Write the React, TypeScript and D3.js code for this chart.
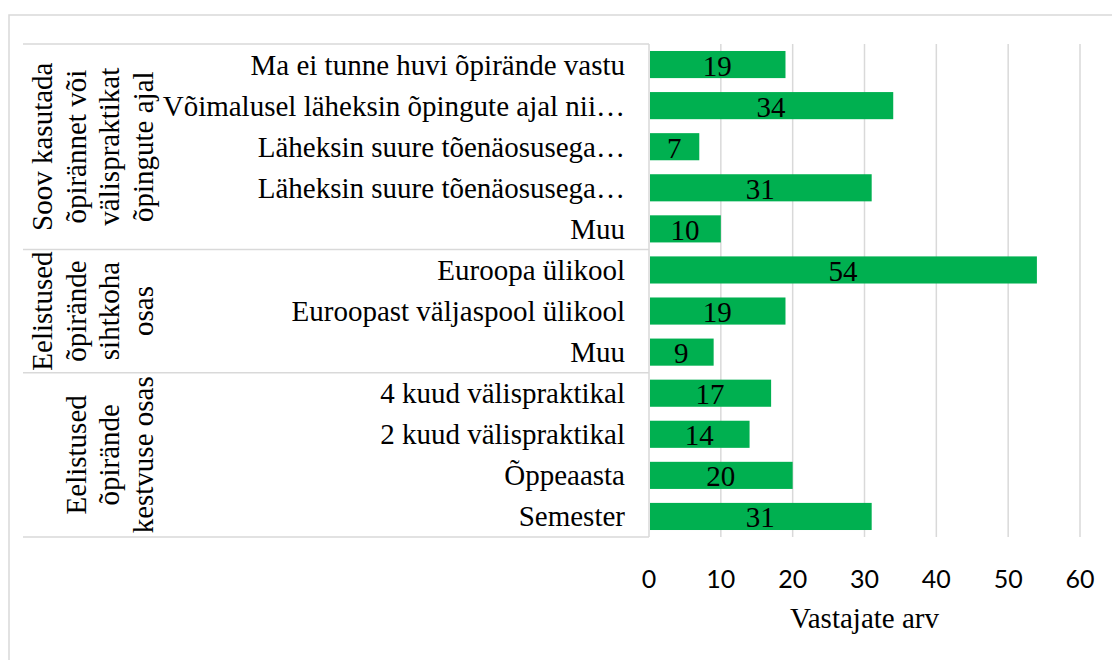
import React from 'react'
import * as d3 from 'd3'

const categories = [
  'Ma ei tunne huvi õpirände vastu',
  'Võimalusel läheksin õpingute ajal nii…',
  'Läheksin suure tõenäosusega…',
  'Läheksin suure tõenäosusega…',
  'Muu',
  'Euroopa ülikool',
  'Euroopast väljaspool ülikool',
  'Muu',
  '4 kuud välispraktikal',
  '2 kuud välispraktikal',
  'Õppeaasta',
  'Semester'
]
const values = [19, 34, 7, 31, 10, 54, 19, 9, 17, 14, 20, 31]
const groups = [
  {lines: ['Soov kasutada', 'õpirännet või', 'välispraktikat', 'õpingute ajal'], from: 0, to: 5},
  {lines: ['Eelistused', 'õpirände', 'sihtkoha', 'osas'], from: 5, to: 8},
  {lines: ['Eelistused', 'õpirände', 'kestvuse osas'], from: 8, to: 12}
]
const xTicks = [0, 10, 20, 30, 40, 50, 60]

const serif = '"Liberation Serif", "Times New Roman", Tinos, serif'
const sans = 'Lato, "Open Sans", sans-serif'
const grid = '#d9d9d9'

export default function App() {
  const left = 649
  const right = 1080
  const top = 44
  const bottom = 537

  const x = d3.scaleLinear().domain([0, 60]).range([left, right])
  const idx = categories.map((_, i) => i)
  const y = d3
    .scaleBand<number>()
    .domain(idx)
    .range([top, bottom])
    .paddingInner(0.34)
    .paddingOuter(0.17)
  const step = y.step()
  const rowTop = (i: number) => top + i * step

  return (
    <svg
      width={1112}
      height={660}
      style={{position: 'absolute', left: 0, top: 0, background: '#fff'}}
    >
      <rect x={9} y={15} width={1200} height={700} fill="#fff" stroke={grid} strokeWidth={1.5} />

      {/* grid lines */}
      {xTicks.slice(1).map(t => (
        <line key={t} x1={x(t)} x2={x(t)} y1={top} y2={bottom} stroke={grid} strokeWidth={1.5} />
      ))}

      {/* category table */}
      <line x1={left} x2={left} y1={top} y2={bottom} stroke={grid} strokeWidth={1.5} />
      {[0, 5, 8, 12].map(k => (
        <line key={k} x1={23} x2={left} y1={rowTop(k)} y2={rowTop(k)} stroke={grid} strokeWidth={1.5} />
      ))}

      {groups.map((g, gi) => {
        const cy = (rowTop(g.from) + rowTop(g.to)) / 2
        const n = g.lines.length
        return (
          <g key={gi}>
            {g.lines.map((ln, li) => {
              const lx = 153 - (n - 1 - li) * 33.7
              return (
                <text
                  key={li}
                  transform={`translate(${lx},${cy}) rotate(-90)`}
                  textAnchor="middle"
                  fontFamily={serif}
                  fontSize={29}
                  fill="#000"
                >
                  {ln}
                </text>
              )
            })}
          </g>
        )
      })}

      {categories.map((c, i) => (
        <text
          key={i}
          x={625}
          y={(y(i) as number) + y.bandwidth() / 2 + 10}
          textAnchor="end"
          fontFamily={serif}
          fontSize={29}
          fill="#000"
        >
          {c}
        </text>
      ))}

      {/* bars */}
      {values.map((v, i) => (
        <g key={i}>
          <rect
            x={x(0) + 1}
            y={y(i)}
            width={x(v) - x(0) - 1}
            height={y.bandwidth()}
            fill="#00B050"
          />
          <text
            x={(x(0) + x(v)) / 2}
            y={(y(i) as number) + y.bandwidth() / 2 + 11}
            textAnchor="middle"
            fontFamily={serif}
            fontSize={29}
            fill="#000"
          >
            {v}
          </text>
        </g>
      ))}

      {/* x axis labels */}
      {xTicks.map(t => (
        <text
          key={t}
          x={x(t)}
          y={588}
          textAnchor="middle"
          fontFamily={sans}
          fontSize={25}
          fill="#000"
        >
          {t}
        </text>
      ))}
      <text
        x={(left + right) / 2}
        y={628}
        textAnchor="middle"
        fontFamily={serif}
        fontSize={29}
        fill="#000"
      >
        Vastajate arv
      </text>
    </svg>
  )
}
